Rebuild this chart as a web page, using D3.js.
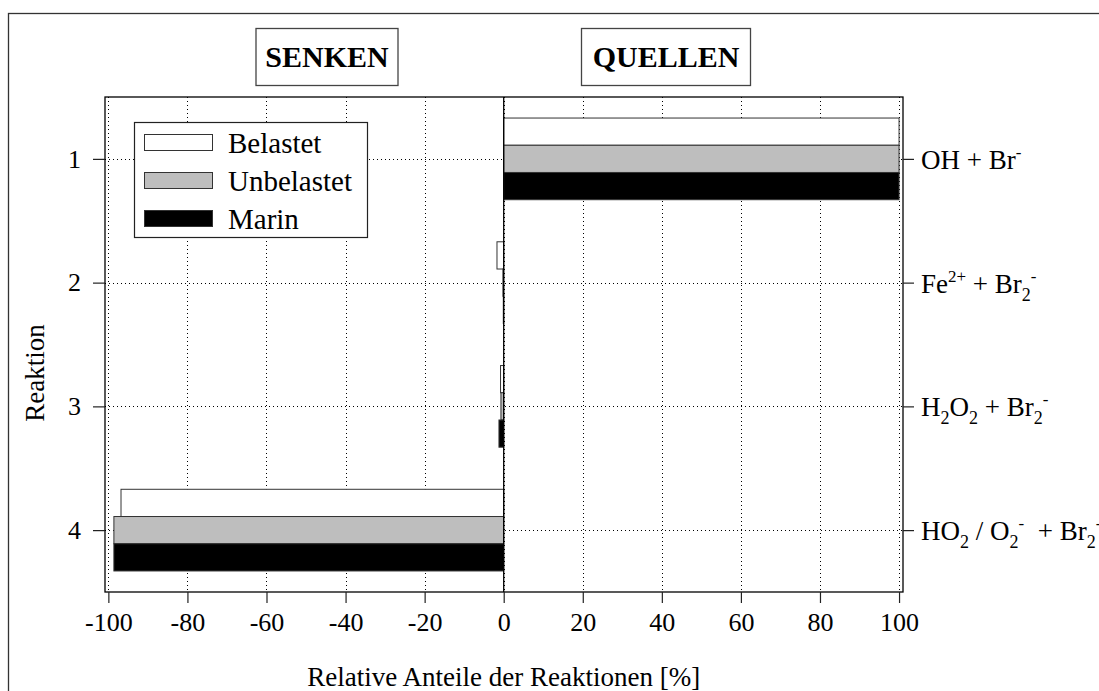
<!DOCTYPE html>
<html>
<head>
<meta charset="utf-8">
<script src="https://cdn.jsdelivr.net/npm/d3@7"></script>
<style>
  html, body { margin: 0; padding: 0; background: #fff; }
  svg { display: block; }
  text { font-family: "Liberation Serif", "Times New Roman", serif; fill: #000; }
</style>
</head>
<body>
<div id="chart"></div>
<script>
// ---- data ----
const reactions = [1, 2, 3, 4];
const series = ["Belastet", "Unbelastet", "Marin"];
const belastet   = [100, -1.7, -0.8, -96.8];
const unbelastet = [100, -0.2, -0.7, -98.6];
const marin      = [100, -0.1, -1.2, -98.6];
const xTicks = [-100, -80, -60, -40, -20, 0, 20, 40, 60, 80, 100];
const yTicks = [1, 2, 3, 4];
// right-hand reaction labels as [text, kind] segments (kind: n normal, sup, sub)
const reactionLabels = [
  [["OH + Br", "n"], ["-", "sup"]],
  [["Fe", "n"], ["2+", "sup"], [" + Br", "n"], ["2", "sub"], ["-", "sup"]],
  [["H", "n"], ["2", "sub"], ["O", "n"], ["2", "sub"], [" + Br", "n"], ["2", "sub"], ["-", "sup"]],
  [["HO", "n"], ["2", "sub"], [" / O", "n"], ["2", "sub"], ["-", "sup"], ["  + Br", "n"], ["2", "sub"], ["-", "sup"]]
];
const panelTitles = ["SENKEN", "QUELLEN"];
const xTitle = "Relative Anteile der Reaktionen [%]";
const yTitle = "Reaktion";

const values = { "Belastet": belastet, "Unbelastet": unbelastet, "Marin": marin };
const fills = { "Belastet": "#ffffff", "Unbelastet": "#bebebe", "Marin": "#000000" };

// ---- layout ----
const W = 1099, H = 691;
const plot = { left: 105, right: 903, top: 97, bottom: 592 };

const svg = d3.select("#chart").append("svg")
  .attr("width", W).attr("height", H).attr("viewBox", `0 0 ${W} ${H}`);

// outer frame (extends beyond the visible area on right/bottom)
svg.append("rect").attr("x", 8.5).attr("y", 13.5).attr("width", 1200).attr("height", 800)
  .attr("fill", "none").attr("stroke", "#333").attr("stroke-width", 1.3);

const x = d3.scaleLinear().domain([-100.85, 101]).range([plot.left, plot.right]);
const y = d3.scaleLinear().domain([0.5, 4.5]).range([plot.top, plot.bottom]);

// grid lines
const grid = svg.append("g");
grid.selectAll("line.v").data(xTicks).join("line")
  .attr("x1", d => Math.round(x(d)) + 0.5).attr("x2", d => Math.round(x(d)) + 0.5)
  .attr("y1", plot.top).attr("y2", plot.bottom)
  .attr("stroke", "#000").attr("stroke-width", 1).attr("stroke-dasharray", "1,3");
grid.selectAll("line.h").data(yTicks).join("line")
  .attr("y1", d => Math.round(y(d)) + 0.5).attr("y2", d => Math.round(y(d)) + 0.5)
  .attr("x1", plot.left).attr("x2", plot.right)
  .attr("stroke", "#000").attr("stroke-width", 1).attr("stroke-dasharray", "1,3");

// bars
const barHalf = 0.33;
const band = d3.scaleBand().domain(series).paddingInner(0).paddingOuter(0);
const barsG = svg.append("g");
series.forEach(s => {
  barsG.selectAll(null).data(reactions).join("rect")
    .attr("x", (r, i) => x(Math.min(0, values[s][i])))
    .attr("width", (r, i) => Math.abs(x(values[s][i]) - x(0)))
    .attr("y", r => { band.range([y(r - barHalf), y(r + barHalf)]); return band(s); })
    .attr("height", r => { band.range([y(r - barHalf), y(r + barHalf)]); return band.bandwidth(); })
    .attr("fill", fills[s])
    .attr("stroke", "#333").attr("stroke-width", 1);
});

// zero line
svg.append("line")
  .attr("x1", x(0)).attr("x2", x(0)).attr("y1", plot.top).attr("y2", plot.bottom)
  .attr("stroke", "#000").attr("stroke-width", 1.3);

// plot frame
svg.append("rect")
  .attr("x", plot.left).attr("y", plot.top)
  .attr("width", plot.right - plot.left).attr("height", plot.bottom - plot.top)
  .attr("fill", "none").attr("stroke", "#000").attr("stroke-width", 1.3);

// x axis
const xAxis = d3.axisBottom(x).tickValues(xTicks).tickSize(11).tickSizeOuter(0).tickPadding(10)
  .tickFormat(d => String(d));
const xg = svg.append("g").attr("transform", `translate(0,${plot.bottom})`).call(xAxis);
xg.select(".domain").remove();
xg.selectAll(".tick line").attr("stroke", "#222").attr("stroke-width", 1.2);
xg.selectAll(".tick text").attr("font-size", 26).attr("font-family", "Liberation Serif, serif").attr("fill", "#000");

// y axis (left)
const yAxis = d3.axisLeft(y).tickValues(yTicks).tickSize(12).tickSizeOuter(0).tickPadding(12)
  .tickFormat(d => String(d));
const yg = svg.append("g").attr("transform", `translate(${plot.left},0)`).call(yAxis);
yg.select(".domain").remove();
yg.selectAll(".tick line").attr("stroke", "#222").attr("stroke-width", 1.2);
yg.selectAll(".tick text").attr("font-size", 26).attr("font-family", "Liberation Serif, serif").attr("fill", "#000");

// right axis with reaction labels
const yAxisR = d3.axisRight(y).tickValues(yTicks).tickSize(11).tickSizeOuter(0).tickFormat("");
const yr = svg.append("g").attr("transform", `translate(${plot.right},0)`).call(yAxisR);
yr.select(".domain").remove();
yr.selectAll(".tick line").attr("stroke", "#222").attr("stroke-width", 1.2);

const rl = svg.append("g");
reactionLabels.forEach((segs, i) => {
  const t = rl.append("text")
    .attr("x", 921).attr("y", y(reactions[i]) + 10)
    .attr("font-size", 27).attr("xml:space", "preserve").style("white-space", "pre");
  let cur = 0; // current baseline offset
  segs.forEach(([txt, kind]) => {
    let target = 0, fs = 27;
    if (kind === "sup") { target = -11; fs = 17; }
    else if (kind === "sub") { target = 8; fs = 18; }
    t.append("tspan").attr("font-size", fs).attr("dy", target - cur).text(txt);
    cur = target;
  });
});

// axis titles
svg.append("text")
  .attr("x", (x(-100) + x(100)) / 2).attr("y", 686)
  .attr("text-anchor", "middle").attr("font-size", 27).text(xTitle);
svg.append("text")
  .attr("transform", `translate(44,373) rotate(-90)`)
  .attr("text-anchor", "middle").attr("font-size", 27).text(yTitle);

// panel titles
const titleBoxes = [{ cx: 327, w: 142 }, { cx: 666, w: 169 }];
panelTitles.forEach((tt, i) => {
  const b = titleBoxes[i];
  svg.append("rect")
    .attr("x", b.cx - b.w / 2).attr("y", 28.5).attr("width", b.w).attr("height", 57)
    .attr("fill", "#fff").attr("stroke", "#444").attr("stroke-width", 1.3);
  svg.append("text")
    .attr("x", b.cx).attr("y", 67).attr("text-anchor", "middle")
    .attr("font-size", 30).attr("font-weight", "bold").text(tt);
});

// legend
const lg = svg.append("g");
lg.append("rect").attr("x", 134.5).attr("y", 122.5).attr("width", 233).attr("height", 115)
  .attr("fill", "#fff").attr("stroke", "#222").attr("stroke-width", 1.2);
series.forEach((s, i) => {
  lg.append("rect")
    .attr("x", 144.5).attr("y", 134.5 + i * 38).attr("width", 68).attr("height", 16)
    .attr("fill", fills[s]).attr("stroke", "#333").attr("stroke-width", 1);
  lg.append("text")
    .attr("x", 228).attr("y", 153 + i * 38)
    .attr("font-size", 29).text(s);
});
</script>
</body>
</html>
